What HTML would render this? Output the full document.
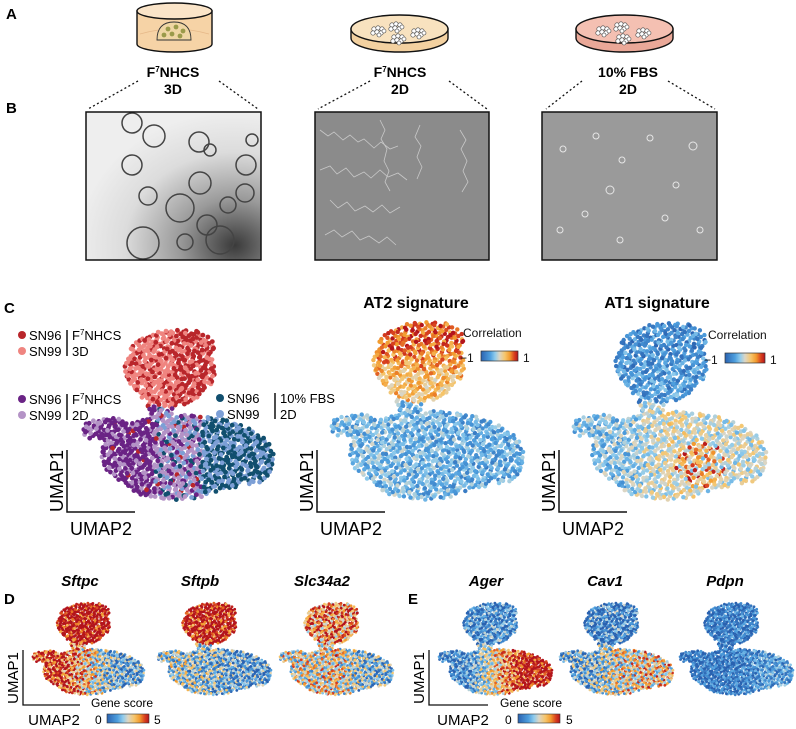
<!DOCTYPE html>
<html><head><meta charset="utf-8"><style>
html,body{margin:0;padding:0;background:#fff;}
svg{display:block;font-family:"Liberation Sans",Arial,sans-serif;}
.lbl{font-weight:bold;font-size:15px;}
.cond{font-family:"Liberation Sans Narrow","Liberation Sans",sans-serif;font-weight:bold;font-size:14px;}
</style></head><body>
<svg id="fig" width="796" height="729" viewBox="0 0 796 729" xmlns="http://www.w3.org/2000/svg">
<defs>
<linearGradient id="cmap" x1="0" x2="1" y1="0" y2="0">
<stop offset="0" stop-color="#2a62b0"/><stop offset="0.25" stop-color="#4e9fde"/><stop offset="0.38" stop-color="#8fcbec"/><stop offset="0.5" stop-color="#dcd6c4"/><stop offset="0.65" stop-color="#f6c56a"/><stop offset="0.78" stop-color="#f29a2e"/><stop offset="0.9" stop-color="#d8401e"/><stop offset="1" stop-color="#b3141c"/>
</linearGradient>
<radialGradient id="img1bg" cx="0.85" cy="0.9" r="0.9"><stop offset="0" stop-color="#3a3a3a"/><stop offset="0.35" stop-color="#9a9a9a"/><stop offset="0.7" stop-color="#dcdcdc"/><stop offset="1" stop-color="#eeeeee"/></radialGradient>
<g id="cellclump"><g fill="#fff" stroke="#444" stroke-width="0.6"><circle cx="-4" cy="-2" r="2.2"/><circle cx="0" cy="-3" r="2.2"/><circle cx="4" cy="-2" r="2.2"/><circle cx="-5" cy="2" r="2.2"/><circle cx="-1" cy="1" r="2.2"/><circle cx="3" cy="2" r="2.2"/><circle cx="6" cy="0" r="2"/><circle cx="1" cy="4" r="2"/></g></g>
</defs>
<g id="scatters"></g>

<!-- Panel A -->
<text x="6" y="19" class="lbl">A</text>
<g>
<path d="M137 11 L137 44 A37.5 8 0 0 0 212 44 L212 11 Z" fill="#f6d3a6" stroke="#111" stroke-width="1.4"/>
<ellipse cx="174.5" cy="11" rx="37.5" ry="8" fill="#fae4c8" stroke="#111" stroke-width="1.4"/>
<path d="M140 34 Q174 24 209 34" fill="none" stroke="#e6b98a" stroke-width="0.8"/>
<path d="M157 40 Q157 22 174 22 Q191 22 191 40 Z" fill="#efd6a4" stroke="#333" stroke-width="0.9"/>
<circle cx="168" cy="29" r="2.4" fill="#9a9a4a"/><circle cx="176" cy="27" r="2.4" fill="#9a9a4a"/><circle cx="183" cy="31" r="2.4" fill="#9a9a4a"/><circle cx="164" cy="35" r="2.4" fill="#9a9a4a"/><circle cx="172" cy="34" r="2.4" fill="#9a9a4a"/><circle cx="180" cy="36" r="2.4" fill="#9a9a4a"/>
</g>
<g>
<path d="M351 29 L351 38 A48.5 14 0 0 0 448 38 L448 29 Z" fill="#f3d1a0" stroke="#111" stroke-width="1.4"/>
<ellipse cx="399.5" cy="29" rx="48.5" ry="14" fill="#f8e2bf" stroke="#111" stroke-width="1.4"/>
<use href="#cellclump" x="378" y="31"/><use href="#cellclump" x="396" y="27"/><use href="#cellclump" x="418" y="33"/><use href="#cellclump" x="398" y="39"/>
</g>
<g>
<path d="M576 29 L576 38 A48.5 14 0 0 0 673 38 L673 29 Z" fill="#eaa898" stroke="#111" stroke-width="1.4"/>
<ellipse cx="624.5" cy="29" rx="48.5" ry="14" fill="#f4c0b2" stroke="#111" stroke-width="1.4"/>
<use href="#cellclump" x="603" y="31"/><use href="#cellclump" x="621" y="27"/><use href="#cellclump" x="643" y="33"/><use href="#cellclump" x="623" y="39"/>
</g>
<text x="173" y="77" text-anchor="middle" class="cond">F<tspan font-size="8" dy="-5">7</tspan><tspan dy="5">NHCS</tspan></text>
<text x="173" y="94" text-anchor="middle" class="cond">3D</text>
<text x="400" y="77" text-anchor="middle" class="cond">F<tspan font-size="8" dy="-5">7</tspan><tspan dy="5">NHCS</tspan></text>
<text x="400" y="94" text-anchor="middle" class="cond">2D</text>
<text x="628" y="77" text-anchor="middle" class="cond">10% FBS</text>
<text x="628" y="94" text-anchor="middle" class="cond">2D</text>
<g stroke="#111" stroke-width="1.3" stroke-dasharray="2,2.5">
<line x1="138" y1="81" x2="88" y2="109"/><line x1="219" y1="81" x2="258" y2="109"/>
<line x1="370" y1="81" x2="318" y2="109"/><line x1="449" y1="81" x2="487" y2="109"/>
<line x1="582" y1="81" x2="546" y2="109"/><line x1="668" y1="81" x2="715" y2="109"/>
</g>

<!-- Panel B -->
<text x="6" y="113" class="lbl">B</text>
<g>
<rect x="86" y="112" width="175" height="148" fill="url(#img1bg)"/>
<g fill="none" stroke="#444" stroke-width="1.5">
<circle cx="132" cy="123" r="10"/><circle cx="154" cy="136" r="11"/><circle cx="132" cy="165" r="10"/><circle cx="199" cy="142" r="10"/><circle cx="210" cy="150" r="6"/><circle cx="200" cy="183" r="11"/><circle cx="180" cy="208" r="14"/><circle cx="148" cy="196" r="9"/><circle cx="143" cy="243" r="16"/><circle cx="228" cy="205" r="8"/><circle cx="246" cy="165" r="10"/><circle cx="245" cy="193" r="9"/><circle cx="207" cy="225" r="10"/><circle cx="220" cy="240" r="14"/><circle cx="185" cy="242" r="8"/><circle cx="252" cy="140" r="6"/>
</g>
<rect x="86" y="112" width="175" height="148" fill="none" stroke="#111" stroke-width="1.5"/>
</g>
<g>
<rect x="315" y="112" width="174" height="148" fill="#8b8b8b"/>
<g fill="none" stroke="#d8d8d8" stroke-width="0.8" opacity="0.8">
<path d="M320 130 l8 6 l6 -4 l9 8 l7 -5 l8 7 l6 -3 l10 9 l7 -6 l9 7 l8 -3"/><path d="M320 170 l10 -4 l7 8 l9 -6 l8 9 l10 -5 l7 6 l9 -8 l8 7 l10 -4 l9 7"/>
<path d="M330 200 l8 8 l9 -6 l8 9 l10 -5 l8 6 l9 -7 l8 8 l10 -6"/><path d="M325 235 l9 -5 l8 7 l10 -6 l8 9 l9 -4 l10 7 l8 -6 l9 8"/>
<path d="M380 120 l5 10 l-4 9 l6 10 l-3 12 l5 10 l-4 11 l5 9"/><path d="M420 125 l-5 12 l6 9 l-4 11 l5 10 l-5 12"/>
<path d="M460 130 l6 10 l-5 9 l6 12 l-4 10 l5 11 l-6 10"/>
</g>
<rect x="315" y="112" width="174" height="148" fill="none" stroke="#111" stroke-width="1.5"/>
</g>
<g>
<rect x="542" y="112" width="175" height="148" fill="#9a9a9a"/>
<g fill="none" stroke="#e6e6e6" stroke-width="1">
<circle cx="563" cy="149" r="3"/><circle cx="596" cy="136" r="3"/><circle cx="610" cy="190" r="4"/><circle cx="622" cy="160" r="3"/><circle cx="650" cy="138" r="3"/><circle cx="676" cy="185" r="3"/><circle cx="693" cy="146" r="4"/><circle cx="585" cy="214" r="3"/><circle cx="665" cy="218" r="3"/><circle cx="700" cy="230" r="3"/><circle cx="620" cy="240" r="3"/><circle cx="560" cy="230" r="3"/>
</g>
<rect x="542" y="112" width="175" height="148" fill="none" stroke="#111" stroke-width="1.5"/>
</g>

<!-- Panel C -->
<text x="4" y="313" class="lbl">C</text>
<text x="416" y="308" text-anchor="middle" font-weight="bold" font-size="16">AT2 signature</text>
<text x="657" y="308" text-anchor="middle" font-weight="bold" font-size="16">AT1 signature</text>

<g font-size="13">
<circle cx="22" cy="335" r="4" fill="#b9262b"/><text x="29" y="340">SN96</text>
<circle cx="22" cy="351" r="4" fill="#ef8580"/><text x="29" y="356">SN99</text>
<line x1="67" y1="330" x2="67" y2="356" stroke="#111" stroke-width="1.5"/>
<text x="72" y="340">F<tspan font-size="8" dy="-5">7</tspan><tspan dy="5">NHCS</tspan></text><text x="72" y="356">3D</text>
<circle cx="22" cy="399" r="4" fill="#6a2385"/><text x="29" y="404">SN96</text>
<circle cx="22" cy="415" r="4" fill="#b493c6"/><text x="29" y="420">SN99</text>
<line x1="67" y1="394" x2="67" y2="420" stroke="#111" stroke-width="1.5"/>
<text x="72" y="404">F<tspan font-size="8" dy="-5">7</tspan><tspan dy="5">NHCS</tspan></text><text x="72" y="420">2D</text>
<circle cx="220" cy="398" r="4" fill="#114f6e"/><text x="227" y="403">SN96</text>
<circle cx="220" cy="414" r="4" fill="#7c9fd6"/><text x="227" y="419">SN99</text>
<line x1="275" y1="393" x2="275" y2="419" stroke="#111" stroke-width="1.5"/>
<text x="280" y="403">10% FBS</text><text x="280" y="419">2D</text>
</g>

<g font-size="12" fill="#111">
<text x="463" y="337">Correlation</text><text x="460" y="362">−1</text>
<rect x="481" y="351" width="37" height="10" fill="url(#cmap)" stroke="#333" stroke-width="0.7"/><text x="523" y="362">1</text>
</g>
<g font-size="12" fill="#111">
<text x="708" y="339">Correlation</text><text x="704" y="364">−1</text>
<rect x="725" y="353" width="40" height="10" fill="url(#cmap)" stroke="#333" stroke-width="0.7"/><text x="770" y="364">1</text>
</g>

<g id="axesC" stroke="#111" stroke-width="1.5" fill="none">
<path d="M67 450 V512 H135"/><path d="M317 450 V512 H385"/><path d="M559 450 V512 H627"/>
</g>
<g font-size="18">
<text transform="translate(63,481) rotate(-90)" text-anchor="middle">UMAP1</text>
<text x="101" y="535" text-anchor="middle">UMAP2</text>
<text transform="translate(313,481) rotate(-90)" text-anchor="middle">UMAP1</text>
<text x="351" y="535" text-anchor="middle">UMAP2</text>
<text transform="translate(555,481) rotate(-90)" text-anchor="middle">UMAP1</text>
<text x="593" y="535" text-anchor="middle">UMAP2</text>
</g>

<!-- Panel D / E -->
<text x="4" y="604" class="lbl">D</text>
<text x="408" y="604" class="lbl">E</text>
<g font-size="15" font-weight="bold" font-style="italic" text-anchor="middle">
<text x="80" y="586">Sftpc</text><text x="200" y="586">Sftpb</text><text x="322" y="586">Slc34a2</text>
<text x="486" y="586">Ager</text><text x="605" y="586">Cav1</text><text x="725" y="586">Pdpn</text>
</g>
<g stroke="#111" stroke-width="1.3" fill="none">
<path d="M23 650 V705 H80"/><path d="M429 650 V705 H488"/>
</g>
<g font-size="15">
<text transform="translate(18,678) rotate(-90)" text-anchor="middle">UMAP1</text>
<text x="54" y="725" text-anchor="middle">UMAP2</text>
<text transform="translate(424,678) rotate(-90)" text-anchor="middle">UMAP1</text>
<text x="463" y="725" text-anchor="middle">UMAP2</text>
</g>
<g font-size="12">
<text x="91" y="707">Gene score</text><text x="95" y="724">0</text>
<rect x="107" y="714" width="42" height="9" fill="url(#cmap)" stroke="#333" stroke-width="0.6"/><text x="154" y="724">5</text>
</g>
<g font-size="12">
<text x="500" y="707">Gene score</text><text x="505" y="724">0</text>
<rect x="518" y="714" width="42" height="9" fill="url(#cmap)" stroke="#333" stroke-width="0.6"/><text x="566" y="724">5</text>
</g>
</svg>
<script>
// ---- data (per-region mean scores; regions: top-upper, top-lower, bottom-left, bottom-mid, bottom-right)
const regionNames = ['top-upper','top-lower','bottom-left','bottom-mid','bottom-right'];
const at2Means = [0.75, 0.3, -0.35, -0.4, -0.45];
const at1Means = [-0.65, -0.55, -0.3, 0.05, -0.05];
const sftpcMeans = [5.6, 5.4, 4.8, 3.0, 1.2];
const sftpbMeans = [5.4, 5.2, 2.0, 1.6, 1.0];
const slc34a2Means = [4.0, 3.8, 2.6, 3.0, 1.5];
const agerMeans = [0.8, 1.0, 0.8, 3.0, 5.2];
const cav1Means = [0.6, 0.6, 1.3, 2.6, 3.0];
const pdpnMeans = [0.5, 0.5, 0.4, 0.5, 1.1];
const conditionNames = ['SN96-3D','SN99-3D','SN96-2D','SN99-2D','SN96-FBS','SN99-FBS'];
const conditionColors = ['#b9262b','#ef8580','#6a2385','#b493c6','#114f6e','#7c9fd6'];

// UMAP outline as union of ellipses (unit box): cu, cv, ru, rv
const shapeU = [0.456, 0.40, 0.534, 0.48, 0.145, 0.87, 0.52];
const shapeV = [0.224, 0.48, 0.735, 0.87, 0.588, 0.76, 0.11];
const shapeRU = [0.235, 0.07, 0.44, 0.27, 0.16, 0.13, 0.17];
const shapeRV = [0.225, 0.08, 0.235, 0.13, 0.07, 0.15, 0.12];

const stops = [[0,[42,98,176]],[0.25,[78,159,222]],[0.38,[143,203,236]],[0.5,[220,214,196]],[0.65,[246,197,106]],[0.78,[242,154,46]],[0.9,[216,64,30]],[1,[179,20,28]]];
function cmap(t){t=Math.max(0,Math.min(1,t));for(let i=1;i<stops.length;i++){if(t<=stops[i][0]){const a=stops[i-1],b=stops[i];const f=(t-a[0])/(b[0]-a[0]);const c=a[1].map((x,k)=>Math.round(x+(b[1][k]-x)*f));return 'rgb('+c.join(',')+')';}}return 'rgb(179,20,28)';}
function halton(i,b){let f=1,r=0;while(i>0){f/=b;r+=f*(i%b);i=Math.floor(i/b);}return r;}
function inside(u,v){for(let k=0;k<shapeU.length;k++){const du=(u-shapeU[k])/shapeRU[k],dv=(v-shapeV[k])/shapeRV[k];if(du*du+dv*dv<=1)return true;}return false;}
function region(u,v){if(v<0.2)return 0;if(v<0.45)return 1;if(u<0.38)return 2;if(u<0.62)return 3;return 4;}
const pts=[];
for(let i=1;i<2600;i++){const u=halton(i,2),v=halton(i,3);if(inside(u,v))pts.push([u,v,region(u,v),halton(i,5),halton(i,7)]);}

const NS='http://www.w3.org/2000/svg';
const host=document.getElementById('scatters');
function panel(name,x0,y0,w,h,r,colorFn){
  const g=document.createElementNS(NS,'g');
  
  
  pts.forEach(p=>{const c=document.createElementNS(NS,'circle');
    c.setAttribute('cx',(x0+p[0]*w).toFixed(1));c.setAttribute('cy',(y0+p[1]*h).toFixed(1));
    c.setAttribute('r',r);c.setAttribute('fill',colorFn(p));g.appendChild(c);});
  host.appendChild(g);
}
function condColor(p){const u=p[0],h=p[3],rg=p[2];let idx;
  if(rg<2){idx=(u>0.48)?(h<0.65?0:1):(h<0.3?0:1);}
  else if(rg===2){idx=h<0.72?2:3; if(h>0.97)idx=0;}
  else if(rg===3){idx=h<0.45?3:(h<0.65?2:(h<0.82?5:(h<0.95?4:0)));}
  else {idx=h<0.55?4:5;}
  return conditionColors[idx];}
function lerp(a,b,f){f=Math.max(0,Math.min(1,f));return a+(b-a)*f;}
function baseMean(means,p){const u=p[0],v=p[1];
  if(p[2]<2) return lerp(means[0],means[1],(v-0.12)/0.2);
  if(u<0.5) return lerp(means[2],means[3],(u-0.25)/0.25);
  return lerp(means[3],means[4],(u-0.5)/0.25);}
function scoreFn(means,lo,hi,spread,hot){return p=>{let s=baseMean(means,p)+(p[4]-0.5)*2*spread;
  if(hot){const du=p[0]-hot[0],dv=p[1]-hot[1];if(du*du+dv*dv<hot[2]*hot[2]&&p[3]>0.55)s+=hot[3];}
  return cmap((s-lo)/(hi-lo));};}

panel('umap-conditions',82,330,193,170,2.4,condColor);
panel('umap-at2-signature',330,322,195,178,2.2,scoreFn(at2Means,-1,1,0.35));
panel('umap-at1-signature',572,323,196,177,2.2,scoreFn(at1Means,-1,1,0.35,[0.66,0.8,0.13,0.7]));
panel('umap-sftpc',32,603,113,92,1.4,scoreFn(sftpcMeans,0,5,2.0));
panel('umap-sftpb',157,603,115,92,1.4,scoreFn(sftpbMeans,0,5,2.0));
panel('umap-slc34a2',279,603,115,92,1.4,scoreFn(slc34a2Means,0,5,2.0));
panel('umap-ager',438,603,115,92,1.4,scoreFn(agerMeans,0,5,1.6));
panel('umap-cav1',559,603,115,92,1.4,scoreFn(cav1Means,0,5,2.0));
panel('umap-pdpn',679,603,115,92,1.4,scoreFn(pdpnMeans,0,5,1.2));
</script>
</body></html>
